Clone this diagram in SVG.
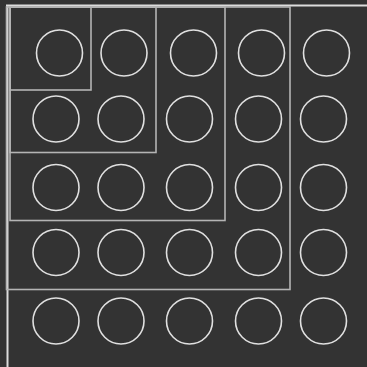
<svg xmlns="http://www.w3.org/2000/svg" width="367" height="367" viewBox="0 0 367 367">
<style>
.c{fill:none;stroke:#e0e0e0;stroke-width:1.6}
.s{fill:none;stroke:#b4b4b4;stroke-width:1.6}
.f{fill:none;stroke:#dcdcdc;stroke-width:2}
</style>
<rect width="367" height="367" fill="#333333"/>
<g id="frame">
<path class="f" d="M6,5.5 H367 M7.5,5 V367"/>
</g>
<g id="squares">
<rect id="sq4" class="s" x="6.5" y="7" width="283.5" height="282.5"/>
<rect id="sq3" class="s" x="10" y="7" width="215" height="213.5"/>
<rect id="sq2" class="s" x="10" y="7" width="146" height="145.5"/>
<rect id="sq1" class="s" x="10" y="7" width="81" height="83"/>
</g>
<g id="row1">
<circle class="c" cx="59.5" cy="53" r="23"/>
<circle class="c" cx="124" cy="53" r="23"/>
<circle class="c" cx="193.5" cy="53" r="23"/>
<circle class="c" cx="261.5" cy="53" r="23"/>
<circle class="c" cx="326.5" cy="53" r="23"/>
</g>
<g id="row2">
<circle class="c" cx="56" cy="119" r="23"/>
<circle class="c" cx="121" cy="119" r="23"/>
<circle class="c" cx="189.5" cy="119" r="23"/>
<circle class="c" cx="258.5" cy="119" r="23"/>
<circle class="c" cx="323.5" cy="119" r="23"/>
</g>
<g id="row3">
<circle class="c" cx="56" cy="187.5" r="23"/>
<circle class="c" cx="121" cy="187.5" r="23"/>
<circle class="c" cx="189.5" cy="187.5" r="23"/>
<circle class="c" cx="258.5" cy="187.5" r="23"/>
<circle class="c" cx="323.5" cy="187.5" r="23"/>
</g>
<g id="row4">
<circle class="c" cx="56" cy="252.5" r="23"/>
<circle class="c" cx="121" cy="252.5" r="23"/>
<circle class="c" cx="189.5" cy="252.5" r="23"/>
<circle class="c" cx="258.5" cy="252.5" r="23"/>
<circle class="c" cx="323.5" cy="252.5" r="23"/>
</g>
<g id="row5">
<circle class="c" cx="56" cy="321" r="23"/>
<circle class="c" cx="121" cy="321" r="23"/>
<circle class="c" cx="189.5" cy="321" r="23"/>
<circle class="c" cx="258.5" cy="321" r="23"/>
<circle class="c" cx="323.5" cy="321" r="23"/>
</g>
</svg>
